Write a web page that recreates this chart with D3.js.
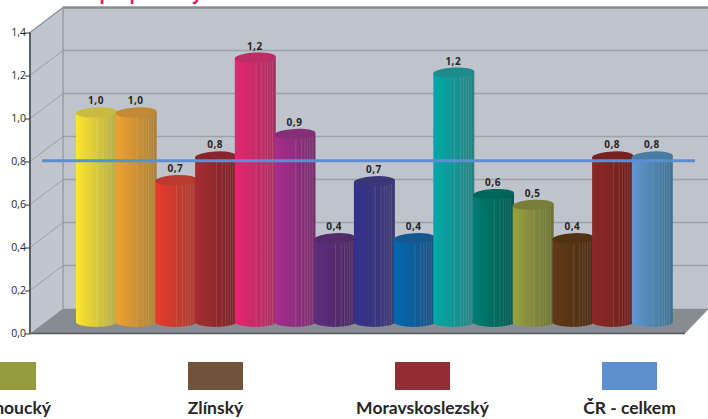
<!DOCTYPE html>
<html>
  <head>
    <meta charset="utf-8">
    <title>Kraje ČR</title>
    <script src="https://d3js.org/d3.v7.min.js"></script>
    <style>
      html, body { margin: 0; padding: 0; background: #fff; overflow: hidden; }
      svg { display: block; }
      text { font-family: "Open Sans", sans-serif; fill: #262626; }
      .axis text { font-size: 10.5px; }
      .axis path { display: none; }
      .value { font-size: 10px; font-weight: 700; letter-spacing: .5px; text-anchor: middle; }
      .legend { font-family: Lato, sans-serif; font-size: 17.5px; font-weight: 700; text-anchor: middle; }
    </style>
  </head>
  <body>
    <script>
      // values
      var values = [0.975, 0.975, 0.66, 0.77, 1.23, 0.875, 0.39, 0.655, 0.39, 1.16, 0.595, 0.545, 0.39, 0.77, 0.77];
      var average = 0.75;

      // light side of each column, dark side of each column
      var lightColors = ["#fde62c", "#f0a22f", "#e93b2b", "#a62d31", "#e8246f", "#a82c8d", "#5e2c7e", "#33308d", "#0069b2", "#00a9a9", "#007d72", "#9aa242", "#613a18", "#8c2925", "#6098d2"];
      var darkColors = ["#b3aa48", "#ab8039", "#a53b31", "#7a2428", "#a63160", "#77306f", "#4b2b61", "#3d3a71", "#1d5080", "#2a8080", "#005a50", "#6a7036", "#4c2e14", "#6c201e", "#41708f"];

      var ticks = [0, 0.2, 0.4, 0.6, 0.8, 1.0, 1.2, 1.4];
      var stripes = [0.52, 0.66, 0.74, 0.8, 0.86, 0.92];

      var legendNames = ["Olomoucký", "Zlínský", "Moravskoslezský", "ČR - celkem"];
      var legendColors = ["#959c3f", "#70533b", "#922e33", "#5c8fcb"];
      var legendCentres = [6, 215.5, 422.5, 629.5];
      var swatchCentres = [8.5, 215.5, 422.5, 629.5];

      // the heading sits above the frame, only these descenders show
      var titleLetters = ["p", "p", "y"];
      var titleCentres = [105, 135, 197];

      var width = 708, height = 419,
        depthX = 33, depthY = 25,
        left = 30, right = 685;

      var svg = d3.select("body").append("svg")
        .attr("width", width)
        .attr("height", height);

      var comma = d3.formatLocale({ decimal: ",", thousands: " ", grouping: [3], currency: ["", ""] }).format(".1f");

      // y on the front edge of the box
      var y = d3.scaleLinear().domain([0, 1.4]).range([333.5, 32.5]);
      // y in the plane the columns stand on
      var yBar = d3.scaleLinear().domain([0, 1.4]).range([322, 21]);
      var x = d3.scaleBand()
        .domain(d3.range(values.length))
        .range([76, 671.5])
        .padding(0);
      var barWidth = 41;

      // box
      var top0 = y(1.4), bottom0 = y(0);
      svg.append("rect")
        .attr("x", left + depthX).attr("y", top0 - depthY)
        .attr("width", width).attr("height", bottom0 - top0)
        .attr("fill", "#bfc4cc");
      svg.append("path")
        .attr("d", d3.line()([[left, top0], [left + depthX, top0 - depthY], [left + depthX, bottom0 - depthY], [left, bottom0]]))
        .attr("fill", "#c1c6ce");
      svg.append("path")
        .attr("d", d3.line()([[left, bottom0], [left + depthX, bottom0 - depthY], [width + 1, bottom0 - depthY], [right, bottom0]]))
        .attr("fill", "#868c91");

      // grid on the back wall and the side wall
      svg.append("g").selectAll("line")
        .data(ticks.slice(1, -1))
        .enter().append("line")
          .attr("x1", left + depthX).attr("x2", width)
          .attr("y1", function(d) { return y(d) - depthY; })
          .attr("y2", function(d) { return y(d) - depthY; })
          .attr("stroke", "#9da1a8").attr("stroke-width", 1.6);
      svg.append("g").selectAll("line")
        .data(ticks.slice(1, -1))
        .enter().append("line")
          .attr("x1", left).attr("x2", left + depthX)
          .attr("y1", function(d) { return y(d); })
          .attr("y2", function(d) { return y(d) - depthY; })
          .attr("stroke", "#9da1a8").attr("stroke-width", 1);

      svg.append("line")
        .attr("x1", left + depthX).attr("x2", width)
        .attr("y1", top0 - depthY).attr("y2", top0 - depthY)
        .attr("stroke", "#888e92").attr("stroke-width", 2.4);
      svg.append("line")
        .attr("x1", left).attr("x2", left + depthX)
        .attr("y1", top0).attr("y2", top0 - depthY)
        .attr("stroke", "#888e92").attr("stroke-width", 1.2);
      svg.append("line")
        .attr("x1", left + depthX).attr("x2", left + depthX)
        .attr("y1", top0 - depthY).attr("y2", bottom0 - depthY)
        .attr("stroke", "#8f9498").attr("stroke-width", 1.2);

      // gradients
      var defs = svg.append("defs");
      values.forEach(function(d, i) {
        var g = defs.append("linearGradient").attr("id", "bar" + i);
        g.append("stop").attr("offset", "0%").attr("stop-color", lightColors[i]);
        g.append("stop").attr("offset", "100%").attr("stop-color", darkColors[i]);
      });

      // columns
      var rx = barWidth / 2, ry = 5;
      var bars = svg.append("g").selectAll("g")
        .data(values)
        .enter().append("g")
          .attr("transform", function(d, i) { return "translate(" + x(i) + ",0)"; });

      bars.append("path")
        .attr("fill", function(d, i) { return "url(#bar" + i + ")"; })
        .attr("d", function(d) {
          var t = yBar(d), b = yBar(0);
          return "M0," + (t + 1) + "L0," + b + "A" + rx + "," + ry + " 0 0 0 " + barWidth + "," + b + "L" + barWidth + "," + (t - 1) + "Z";
        });

      // thin vertical facets
      bars.each(function(d) {
        d3.select(this).selectAll("line")
          .data(stripes)
          .enter().append("line")
            .attr("x1", function(s) { return s * barWidth; })
            .attr("x2", function(s) { return s * barWidth; })
            .attr("y1", function(s) { return yBar(d) + ry * Math.sqrt(1 - Math.pow(2 * s - 1, 2)); })
            .attr("y2", function(s) { return yBar(0) + ry * Math.sqrt(1 - Math.pow(2 * s - 1, 2)); })
            .attr("stroke", "#fff")
            .attr("stroke-opacity", 0.16)
            .attr("stroke-width", 0.8);
      });

      bars.append("ellipse")
        .attr("cx", rx)
        .attr("cy", function(d) { return yBar(d); })
        .attr("rx", rx).attr("ry", ry)
        .attr("transform", function(d) { return "rotate(-3," + rx + "," + yBar(d) + ")"; })
        .attr("fill", function(d, i) { return d3.interpolateRgb(lightColors[i], darkColors[i])(0.7); });

      // average line
      svg.append("line")
        .attr("x1", 42).attr("x2", 695)
        .attr("y1", yBar(average)).attr("y2", yBar(average))
        .attr("stroke", "#5c8fcf").attr("stroke-width", 3);

      // value labels
      svg.append("g").selectAll("text")
        .data(values)
        .enter().append("text")
          .attr("class", "value")
          .attr("x", function(d, i) { return x(i) + rx - 0.5; })
          .attr("y", function(d) { return yBar(d) - 8; })
          .text(comma);

      // axis frame
      svg.append("line")
        .attr("x1", left).attr("x2", left)
        .attr("y1", top0).attr("y2", bottom0)
        .attr("stroke", "#5d6165").attr("stroke-width", 2);
      svg.append("line")
        .attr("x1", left).attr("x2", right)
        .attr("y1", bottom0).attr("y2", bottom0)
        .attr("stroke", "#55595d").attr("stroke-width", 1.5);

      svg.append("g")
        .attr("class", "axis")
        .attr("transform", "translate(" + left + ",0)")
        .call(d3.axisLeft(y).tickValues(ticks).tickFormat(comma).tickSize(5).tickPadding(-1))
        .selectAll("line").attr("stroke", "#333");

      // legend, the row runs off the left edge like the original
      var legend = svg.append("g").selectAll("g")
        .data(legendNames)
        .enter().append("g");
      legend.append("rect")
        .attr("x", function(d, i) { return swatchCentres[i] - 27.5; })
        .attr("y", 362).attr("width", 55).attr("height", 28)
        .attr("fill", function(d, i) { return legendColors[i]; });
      legend.append("text")
        .attr("class", "legend")
        .attr("x", function(d, i) { return legendCentres[i]; })
        .attr("y", 414)
        .text(function(d) { return d; });

      // heading
      svg.append("g").selectAll("text")
        .data(titleLetters)
        .enter().append("text")
          .attr("x", function(d, i) { return titleCentres[i]; })
          .attr("y", 0)
          .attr("text-anchor", "middle")
          .style("font-size", "17px")
          .style("font-weight", 700)
          .style("fill", "#e5195f")
          .text(function(d) { return d; });
    </script>
  </body>
</html>
